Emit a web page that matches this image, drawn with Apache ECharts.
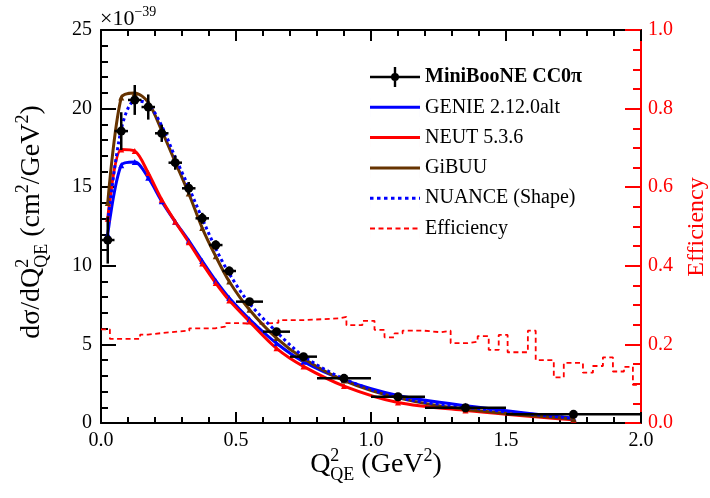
<!DOCTYPE html>
<html>
<head>
<meta charset="utf-8">
<script src="https://cdn.jsdelivr.net/npm/echarts@6/dist/echarts.min.js"></script>
<style>html,body{margin:0;padding:0;background:#fff}#c{width:710px;height:498px}</style>
</head>
<body>
<div id="c"></div>
<script>
// ---- data (values in units of 1e-39 cm^2/GeV^2) ----
const qCenter = [0.025,0.075,0.125,0.175,0.225,0.275,0.325,0.375,0.425,0.475,0.55,0.65,0.75,0.9,1.1,1.35,1.75];
const binLo   = [0,0.05,0.1,0.15,0.2,0.25,0.3,0.35,0.4,0.45,0.5,0.6,0.7,0.8,1.0,1.2,1.5];
const binHi   = [0.05,0.1,0.15,0.2,0.25,0.3,0.35,0.4,0.45,0.5,0.6,0.7,0.8,1.0,1.2,1.5,2.0];
const miniboone    = [11.64,18.57,20.55,20.1,18.43,16.56,14.93,13.02,11.32,9.67,7.72,5.81,4.22,2.84,1.67,0.97,0.55];
const minibooneErr = [1.5,1.2,0.95,0.8,0.55,0.45,0.4,0.35,0.3,0.28,0.22,0.18,0.15,0.12,0.1,0.08,0.06];
const genie  = [12.0,16.4,16.6,15.6,14.1,12.8,11.6,10.3,9.05,7.95,6.6,5.07,3.9,2.74,1.75,1.1,0.3];
const neut   = [13.0,17.4,17.3,15.9,14.2,12.8,11.5,10.15,8.9,7.8,6.45,4.75,3.6,2.35,1.3,0.8,0.2];
const gibuu  = [14.0,20.7,21.0,20.4,18.6,16.6,14.6,12.4,10.6,9.0,7.2,5.4,4.1,2.7,1.6,0.87,0.25];
const nuance = [12.8,18.7,20.5,20.3,18.9,16.9,15.0,13.0,11.1,9.5,7.6,5.8,4.25,2.8,1.62,1.0,0.3];
// efficiency histogram: step lower edges and values
const effEdge = [0.000,0.033,0.145,0.174,0.241,0.327,0.423,0.460,0.516,0.586,0.657,0.753,0.879,0.909,0.968,1.013,1.050,1.087,1.117,1.195,1.258,1.295,1.358,1.395,1.436,1.473,1.506,1.581,1.610,1.677,1.714,1.785,1.822,1.859,1.896,1.937,1.970];
const effVal  = [0.238,0.214,0.225,0.230,0.235,0.241,0.245,0.254,0.252,0.255,0.262,0.266,0.270,0.249,0.260,0.237,0.218,0.228,0.235,0.231,0.235,0.203,0.207,0.221,0.186,0.224,0.180,0.235,0.160,0.116,0.153,0.128,0.145,0.167,0.131,0.143,0.097];
const effEnd = 2.0;
const xTicks = [0,0.5,1.0,1.5,2.0];
const yLeftTicks = [0,5,10,15,20,25];
const yRightTicks = [0,0.2,0.4,0.6,0.8,1.0];

const names = {data:'MiniBooNE CC0\u03c0', genie:'GENIE 2.12.0alt', neut:'NEUT 5.3.6', gibuu:'GiBUU', nuance:'NUANCE (Shape)', eff:'Efficiency'};
const FONT = '"Liberation Serif", "Times New Roman", serif';
const BROWN = '#663300';

const zip = (xs, ys) => xs.map((x,i)=>[x, ys[i]]);
const effData = effEdge.map((x,i)=>[x, effVal[i]]).concat([[effEnd, effVal[effVal.length-1]]]);
const errData = qCenter.map((q,i)=>[q, miniboone[i], binLo[i], binHi[i], minibooneErr[i]]);

// legend icon paths (50 x 20 box)
function dashPath(dash, gap, h){
  let p = 'path://M0,0H0.01V20H0Z ';
  const y0 = 10 - h/2, y1 = 10 + h/2;
  for (let x = 0; x < 50; x += dash + gap){ const x2 = Math.min(50, x + dash); p += `M${x},${y0}H${x2}V${y1}H${x}Z `; }
  return p + 'M49.99,0H50V20H49.99Z';
}
const solidIcon = dashPath(50, 0, 3);

// ---- text with super/subscripts ----
const mctx = document.createElement('canvas').getContext('2d');
function tw(t, size){ mctx.font = size + 'px ' + FONT; return mctx.measureText(t).width; }
function richTitle(pieces, F, color, anchor){
  const small = Math.round(F*0.65);
  let x = 0; const els = [];
  for (const [t,k] of pieces){
    if (k==='n'){ els.push({t,x,s:F,b:0}); x += tw(t,F); }
    else if (k==='sup'){ els.push({t,x,s:small,b:-0.42*F}); x += tw(t,small); }
    else if (k==='sub'){ els.push({t,x,s:small,b:0.24*F}); x += tw(t,small); }
    else if (k==='ss'){ const [a,b]=t.split('|'); els.push({t:a,x,s:small,b:-0.42*F}); els.push({t:b,x,s:small,b:0.24*F}); x += Math.max(tw(a,small),tw(b,small)); }
  }
  const off = anchor==='center' ? x/2 : 0;
  return els.map(e=>({type:'text', x:e.x-off, y:e.b-0.33*e.s, style:{text:e.t, fontSize:e.s, fontFamily:FONT, fill:color, align:'left', verticalAlign:'middle'}}));
}

const chart = echarts.init(document.getElementById('c'), null, {renderer:'canvas'});
function mkAxis(extra, color, tickLen, minorLen, split){
  return Object.assign({
    type:'value',
    axisLine:{show:true, onZero:false, lineStyle:{color, width:2}},
    axisTick:{show:true, inside:true, length:tickLen, lineStyle:{color, width:2}},
    minorTick:{show:true, splitNumber:split, length:minorLen, lineStyle:{color, width:2}},
    splitLine:{show:false}, minorSplitLine:{show:false}
  }, extra);
}
const option = {
  animation:false,
  backgroundColor:'#fff',
  grid:{left:101, right:69, top:30, bottom:75},
  xAxis:[
    mkAxis({position:'bottom', min:xTicks[0], max:xTicks[xTicks.length-1], interval:0.5,
      axisLabel:{show:true, margin:8, fontSize:20, fontFamily:FONT, color:'#000', formatter:v=>v.toFixed(1), showMinLabel:true, showMaxLabel:true}}, '#000', 11, 6, 5),
    mkAxis({position:'top', min:xTicks[0], max:xTicks[xTicks.length-1], interval:0.5, axisLabel:{show:false}}, '#000', 11, 6, 5)
  ],
  yAxis:[
    mkAxis({position:'left', min:yLeftTicks[0], max:yLeftTicks[yLeftTicks.length-1], interval:5,
      axisLabel:{show:true, margin:9, fontSize:20, fontFamily:FONT, color:'#000'}}, '#000', 15, 7, 5),
    mkAxis({position:'right', min:yRightTicks[0], max:yRightTicks[yRightTicks.length-1], interval:0.2,
      axisLabel:{show:true, margin:7, fontSize:20, fontFamily:FONT, color:'#ff0000', formatter:v=>v.toFixed(1)}}, '#ff0000', 16, 8, 4)
  ],
  legend:{
    orient:'vertical', left:365, top:62, itemWidth:50, itemHeight:20, itemGap:10.3,
    textStyle:{fontFamily:FONT, fontSize:20, color:'#000'},
    selectedMode:false,
    data:[
      {name:names.data, icon:'path://M0,8.8H50V11.2H0Z M23.8,0H26.2V20H23.8Z M21,10A4,4 0 1,1 29,10A4,4 0 1,1 21,10Z', itemStyle:{color:'#000', opacity:1}, textStyle:{fontWeight:'bold'}},
      {name:names.genie, icon:solidIcon},
      {name:names.neut, icon:solidIcon},
      {name:names.gibuu, icon:solidIcon},
      {name:names.nuance, icon:dashPath(3.5, 3.5, 3)},
      {name:names.eff, icon:dashPath(5, 3.5, 1.8)}
    ]
  },
  series:[
    {name:names.eff, type:'line', yAxisIndex:1, step:'end', symbol:'none', data:effData,
      lineStyle:{color:'#ff0000', width:1.8, type:[5,3.5]}, itemStyle:{color:'#ff0000'}, z:2},
    {name:names.genie, type:'line', symbol:'none', smooth:0.3, data:zip(qCenter, genie),
      lineStyle:{color:'#0000ff', width:3}, itemStyle:{color:'#0000ff'}, z:3},
    {name:names.neut, type:'line', symbol:'none', smooth:0.3, data:zip(qCenter, neut),
      lineStyle:{color:'#ff0000', width:3}, itemStyle:{color:'#ff0000'}, z:3},
    {name:names.gibuu, type:'line', symbol:'none', smooth:0.3, data:zip(qCenter, gibuu),
      lineStyle:{color:BROWN, width:3}, itemStyle:{color:BROWN}, z:3},
    {name:names.nuance, type:'line', symbol:'none', smooth:0.3, data:zip(qCenter, nuance),
      lineStyle:{color:'#0000ff', width:3, type:[3,3]}, itemStyle:{color:'#0000ff'}, z:3},
    {type:'scatter', symbol:'triangle', symbolSize:6, data:zip(qCenter, genie), itemStyle:{color:'#0000ff', opacity:1}, z:3, silent:true},
    {type:'scatter', symbol:'triangle', symbolSize:6, data:zip(qCenter, neut), itemStyle:{color:'#ff0000', opacity:1}, z:3, silent:true},
    {type:'scatter', symbol:'triangle', symbolSize:6, data:zip(qCenter, gibuu), itemStyle:{color:BROWN, opacity:1}, z:3, silent:true},
    {type:'custom', z:4, silent:true, data:errData,
      renderItem:(params, api)=>{
        const q=api.value(0), v=api.value(1), lo=api.value(2), hi=api.value(3), e=api.value(4);
        const pL=api.coord([lo,v]), pR=api.coord([hi,v]), pT=api.coord([q,v+e]), pB=api.coord([q,v-e]);
        const st={stroke:'#000', lineWidth:2.5, opacity:1};
        return {type:'group', children:[
          {type:'line', shape:{x1:pL[0],y1:pL[1],x2:pR[0],y2:pR[1]}, style:st},
          {type:'line', shape:{x1:pT[0],y1:pT[1],x2:pB[0],y2:pB[1]}, style:st}
        ]};
      }},
    {name:names.data, type:'scatter', symbol:'circle', symbolSize:9, data:zip(qCenter, miniboone),
      itemStyle:{color:'#000', opacity:1}, z:5}
  ],
  graphic:[
    {type:'group', x:100, y:26, children: richTitle([['\u00d710','n'],['\u221239','sup']], 22, '#000', 'left')},
    {type:'group', x:41, y:222, rotation:Math.PI/2,
      children: richTitle([['d\u03c3/dQ','n'],['2|QE','ss'],[' (cm','n'],['2','sup'],['/GeV','n'],['2','sup'],[')','n']], 28, '#000', 'center')},
    {type:'group', x:376, y:474,
      children: richTitle([['Q','n'],['2|QE','ss'],[' (GeV','n'],['2','sup'],[')','n']], 28, '#000', 'center')},
    {type:'group', x:705, y:227, rotation:Math.PI/2,
      children: richTitle([['Efficiency','n']], 24, '#ff0000', 'center')}
  ]
};
chart.setOption(option);
</script>
</body>
</html>
